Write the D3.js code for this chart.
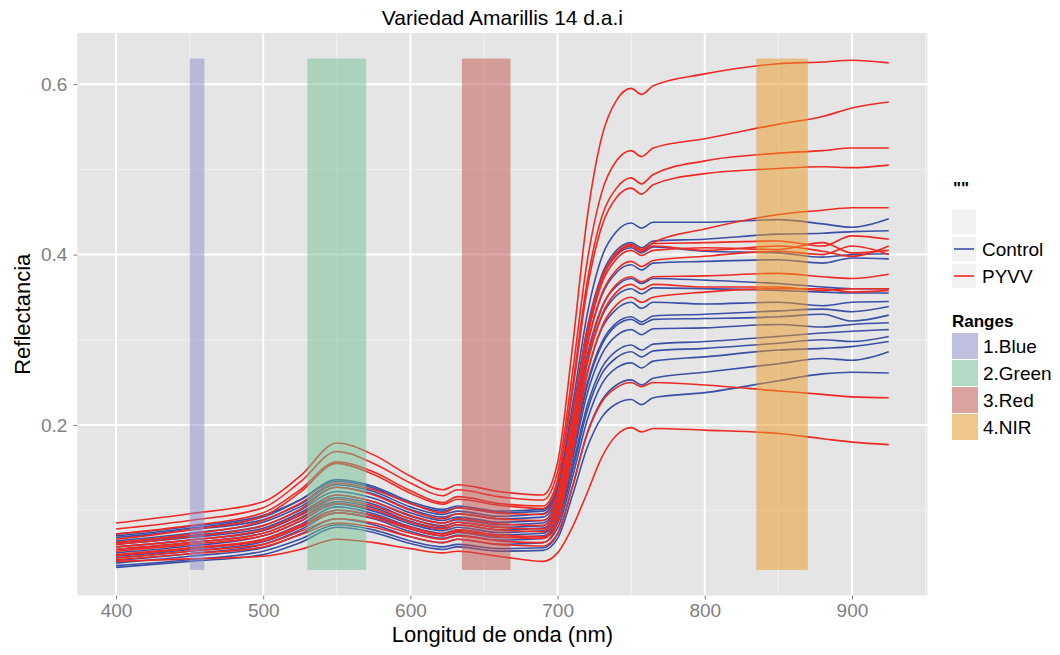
<!DOCTYPE html>
<html>
<head>
<meta charset="utf-8">
<script src="https://cdn.jsdelivr.net/npm/d3@7"></script>
<style>
body { margin: 0; background: #fff; }
text { font-family: "Liberation Sans", Arial, sans-serif; }
</style>
</head>
<body>
<div id="chart"></div>
<script>
var wavelengths = [400, 450, 500, 525, 550, 575, 600, 622, 632, 660, 690, 700, 710, 720, 730, 740, 750, 757, 765, 800, 850, 880, 900, 925];

// Control spectra (reflectance)
var controlSpectra = [
    [.070,.079,.092,.112,.136,.128,.110,.101,.105,.099,.101, .128,.222,.329,.397,.427,.437, .431,.438,.438,.441,.436,.432,.442],
    [.072,.081,.094,.112,.134,.126,.108,.099,.103,.097,.099, .124,.212,.313,.376,.405,.414, .408,.416,.418,.424,.425,.427,.428],
    [.068,.077,.089,.107,.130,.122,.104,.095,.099,.093,.096, .121,.208,.308,.371,.399,.408, .402,.409,.404,.402,.397,.400,.401],
    [.064,.073,.086,.104,.127,.119,.101,.092,.096,.090,.092, .116,.199,.293,.352,.379,.388, .382,.390,.392,.394,.390,.396,.395],
    [.062,.070,.082,.100,.122,.114,.097,.088,.092,.086,.088, .111,.190,.281,.338,.363,.372, .366,.372,.370,.366,.362,.360,.360],
    [.060,.068,.079,.097,.118,.110,.093,.085,.089,.083,.085, .107,.184,.272,.327,.352,.360, .354,.361,.360,.358,.356,.355,.355],
    [.057,.065,.076,.094,.115,.107,.090,.082,.086,.080,.082, .103,.176,.260,.313,.336,.344, .337,.344,.342,.344,.340,.344,.345],
    [.054,.062,.073,.090,.110,.103,.087,.079,.083,.077,.079, .099,.168,.248,.297,.320,.327, .321,.328,.330,.334,.336,.333,.339],
    [.050,.058,.070,.087,.107,.099,.084,.076,.080,.074,.076, .096,.165,.245,.294,.317,.324, .318,.324,.325,.327,.330,.322,.329],
    [.046,.054,.066,.083,.104,.096,.081,.073,.077,.071,.073, .092,.159,.236,.283,.305,.312, .306,.313,.314,.318,.315,.318,.320],
    [.044,.052,.063,.080,.100,.093,.078,.070,.074,.068,.070, .088,.151,.222,.267,.287,.294, .288,.295,.298,.304,.308,.310,.312],
    [.041,.049,.060,.077,.097,.090,.075,.067,.071,.065,.067, .085,.146,.216,.260,.279,.286, .280,.287,.290,.296,.300,.298,.304],
    [.038,.046,.056,.072,.090,.083,.069,.062,.066,.060,.062, .079,.138,.205,.248,.267,.273, .267,.275,.280,.288,.290,.292,.298],
    [.035,.042,.052,.066,.083,.077,.064,.057,.060,.055,.056, .072,.127,.190,.229,.247,.253, .247,.255,.262,.272,.278,.276,.286],
    [.033,.040,.048,.062,.080,.074,.061,.054,.057,.052,.053, .067,.117,.173,.209,.225,.230, .224,.232,.238,.252,.260,.262,.261]
];

// PYVV spectra
var pyvvSpectra = [
    [.085,.096,.110,.140,.179,.165,.140,.124,.130,.122,.118, .156,.290,.442,.538,.581,.595, .588,.598,.612,.624,.626,.628,.625],
    [.078,.088,.103,.133,.169,.155,.132,.117,.124,.116,.112, .145,.260,.391,.473,.510,.522, .515,.525,.536,.553,.562,.572,.579],
    [.072,.082,.097,.124,.157,.145,.123,.109,.116,.108,.105, .136,.244,.367,.444,.478,.490, .483,.494,.510,.519,.522,.525,.525],
    [.066,.077,.093,.121,.155,.142,.120,.107,.113,.106,.102, .132,.237,.358,.433,.467,.478, .471,.482,.495,.501,.503,.502,.505],
    [.062,.072,.088,.108,.132,.124,.108,.097,.103,.097,.095, .120,.208,.309,.372,.401,.410, .404,.414,.430,.447,.452,.455,.455],
    [.060,.069,.082,.101,.127,.118,.100,.090,.096,.090,.088, .114,.205,.308,.373,.402,.412, .406,.413,.414,.416,.410,.422,.418],
    [.057,.065,.077,.095,.118,.110,.094,.085,.090,.084,.082, .108,.200,.305,.371,.400,.410, .404,.410,.405,.410,.404,.398,.410],
    [.054,.062,.073,.091,.113,.105,.090,.081,.086,.080,.078, .104,.196,.300,.366,.395,.405, .399,.405,.408,.406,.414,.402,.405],
    [.052,.060,.070,.087,.108,.101,.086,.078,.083,.077,.075, .100,.189,.291,.354,.382,.392, .386,.393,.398,.404,.400,.410,.400],
    [.048,.056,.066,.082,.100,.094,.080,.072,.077,.071,.069, .093,.179,.276,.337,.365,.374, .368,.374,.375,.378,.374,.372,.377],
    [.047,.055,.064,.080,.097,.091,.078,.070,.075,.069,.067, .091,.174,.270,.329,.356,.365, .359,.365,.362,.362,.358,.360,.360],
    [.044,.052,.060,.075,.090,.085,.073,.066,.070,.064,.062, .085,.166,.258,.315,.341,.350, .344,.350,.356,.360,.360,.356,.358],
    [.042,.049,.057,.071,.085,.080,.069,.062,.066,.060,.058, .073,.127,.189,.227,.244,.250, .245,.250,.247,.240,.236,.233,.232],
    [.040,.043,.046,.054,.066,.062,.055,.050,.052,.046,.040, .050,.080,.120,.162,.188,.197, .192,.196,.194,.190,.184,.180,.177]
];

var rangeNames = ["1.Blue", "2.Green", "3.Red", "4.NIR"];
var rangeStart = [450, 530, 635, 835];
var rangeEnd = [460, 570, 668, 870];
var rangeColors = ["#8c8ccd", "#72c294", "#c2544e", "#ea9a22"];

var xTicks = [400, 500, 600, 700, 800, 900];
var xMinor = [450, 550, 650, 750, 850, 950];
var yTicks = [0.2, 0.4, 0.6];
var yMinor = [0.1, 0.3, 0.5];

var width = 1060,
    height = 655,
    pLeft = 77.4,
    pRight = 927.4,
    pTop = 33,
    pBottom = 595.5;

var svg = d3.select("#chart")
    .append("svg")
    .attr("width", width)
    .attr("height", height);

var xScale = d3.scaleLinear().domain([373.75, 951.25]).range([pLeft, pRight]);
var yScale = d3.scaleLinear().domain([0, 0.66]).range([pBottom, pTop]);

svg.append("rect")
    .attr("x", pLeft)
    .attr("y", pTop)
    .attr("width", pRight - pLeft)
    .attr("height", pBottom - pTop)
    .style("fill", "#e5e5e5");

// grid
svg.append("g").selectAll("line")
    .data(xMinor).enter().append("line")
    .attr("x1", function (d) { return xScale(d); })
    .attr("x2", function (d) { return xScale(d); })
    .attr("y1", pTop).attr("y2", pBottom)
    .style("stroke", "#f2f2f2").style("stroke-width", 1);
svg.append("g").selectAll("line")
    .data(yMinor).enter().append("line")
    .attr("y1", function (d) { return yScale(d); })
    .attr("y2", function (d) { return yScale(d); })
    .attr("x1", pLeft).attr("x2", pRight)
    .style("stroke", "#f2f2f2").style("stroke-width", 1);
svg.append("g").selectAll("line")
    .data(xTicks).enter().append("line")
    .attr("x1", function (d) { return xScale(d); })
    .attr("x2", function (d) { return xScale(d); })
    .attr("y1", pTop).attr("y2", pBottom)
    .style("stroke", "#fff").style("stroke-width", 2);
svg.append("g").selectAll("line")
    .data(yTicks).enter().append("line")
    .attr("y1", function (d) { return yScale(d); })
    .attr("y2", function (d) { return yScale(d); })
    .attr("x1", pLeft).attr("x2", pRight)
    .style("stroke", "#fff").style("stroke-width", 2);

var line = d3.line()
    .x(function (d, i) { return xScale(wavelengths[i]); })
    .y(function (d) { return yScale(d); })
    .curve(d3.curveMonotoneX);

svg.append("g").selectAll("path")
    .data(controlSpectra).enter().append("path")
    .attr("d", line)
    .style("fill", "none")
    .style("stroke", "#3a50a6")
    .style("stroke-width", 1.6);

svg.append("g").selectAll("path")
    .data(pyvvSpectra).enter().append("path")
    .attr("d", line)
    .style("fill", "none")
    .style("stroke", "#ee2a24")
    .style("stroke-width", 1.6);

// spectral ranges on top
svg.append("g").selectAll("rect")
    .data(rangeNames).enter().append("rect")
    .attr("x", function (d, i) { return xScale(rangeStart[i]); })
    .attr("width", function (d, i) { return xScale(rangeEnd[i]) - xScale(rangeStart[i]); })
    .attr("y", yScale(0.63))
    .attr("height", yScale(0.03) - yScale(0.63))
    .style("fill", function (d, i) { return rangeColors[i]; })
    .style("opacity", 0.5);

// axes
var xAxis = d3.axisBottom(xScale).tickValues(xTicks).tickSize(4).tickPadding(4);
var yAxis = d3.axisLeft(yScale).tickValues(yTicks).tickSize(4).tickPadding(6)
    .tickFormat(d3.format(".1f"));

var gx = svg.append("g")
    .attr("transform", "translate(0," + pBottom + ")")
    .call(xAxis);
var gy = svg.append("g")
    .attr("transform", "translate(" + pLeft + ",0)")
    .call(yAxis);
[gx, gy].forEach(function (g) {
    g.select(".domain").remove();
    g.selectAll(".tick line").style("stroke", "#7f7f7f");
    g.selectAll(".tick text")
        .style("fill", "#7f7f7f")
        .style("font-size", "19px")
        .style("font-family", "'Liberation Sans', Arial, sans-serif");
});

svg.append("text")
    .attr("x", (pLeft + pRight) / 2)
    .attr("y", 642)
    .attr("text-anchor", "middle")
    .style("font-size", "22px")
    .text("Longitud de onda (nm)");

svg.append("text")
    .attr("transform", "rotate(-90)")
    .attr("x", -(pTop + pBottom) / 2)
    .attr("y", 30)
    .attr("text-anchor", "middle")
    .style("font-size", "22px")
    .text("Reflectancia");

svg.append("text")
    .attr("x", (pLeft + pRight) / 2)
    .attr("y", 25)
    .attr("text-anchor", "middle")
    .style("font-size", "21px")
    .text("Variedad Amarillis 14 d.a.i");

// legend: groups
var legend = svg.append("g");
legend.append("text")
    .attr("x", 953).attr("y", 194)
    .style("font-size", "17px").style("font-weight", "bold")
    .text("\"\"");

var groupNames = ["", "Control", "PYVV"];
var groupColors = [null, "#3a50a6", "#ee2a24"];
groupNames.forEach(function (name, i) {
    var ky = 210 + i * 27;
    legend.append("rect")
        .attr("x", 952).attr("y", ky)
        .attr("width", 24).attr("height", 24)
        .style("fill", "#f2f2f2");
    if (groupColors[i]) {
        legend.append("line")
            .attr("x1", 954).attr("x2", 974)
            .attr("y1", ky + 12).attr("y2", ky + 12)
            .style("stroke", groupColors[i]).style("stroke-width", 1.6);
        legend.append("text")
            .attr("x", 982).attr("y", ky + 19)
            .style("font-size", "19px")
            .text(name);
    }
});

legend.append("text")
    .attr("x", 952).attr("y", 327)
    .style("font-size", "17px").style("font-weight", "bold")
    .text("Ranges");

rangeNames.forEach(function (name, i) {
    var ky = 333 + i * 27;
    legend.append("rect")
        .attr("x", 952).attr("y", ky)
        .attr("width", 26).attr("height", 26)
        .style("fill", "#f2f2f2");
    legend.append("rect")
        .attr("x", 952).attr("y", ky)
        .attr("width", 26).attr("height", 26)
        .style("fill", rangeColors[i]).style("opacity", 0.5);
    legend.append("text")
        .attr("x", 983).attr("y", ky + 20)
        .style("font-size", "19px")
        .text(name);
});
</script>
</body>
</html>
